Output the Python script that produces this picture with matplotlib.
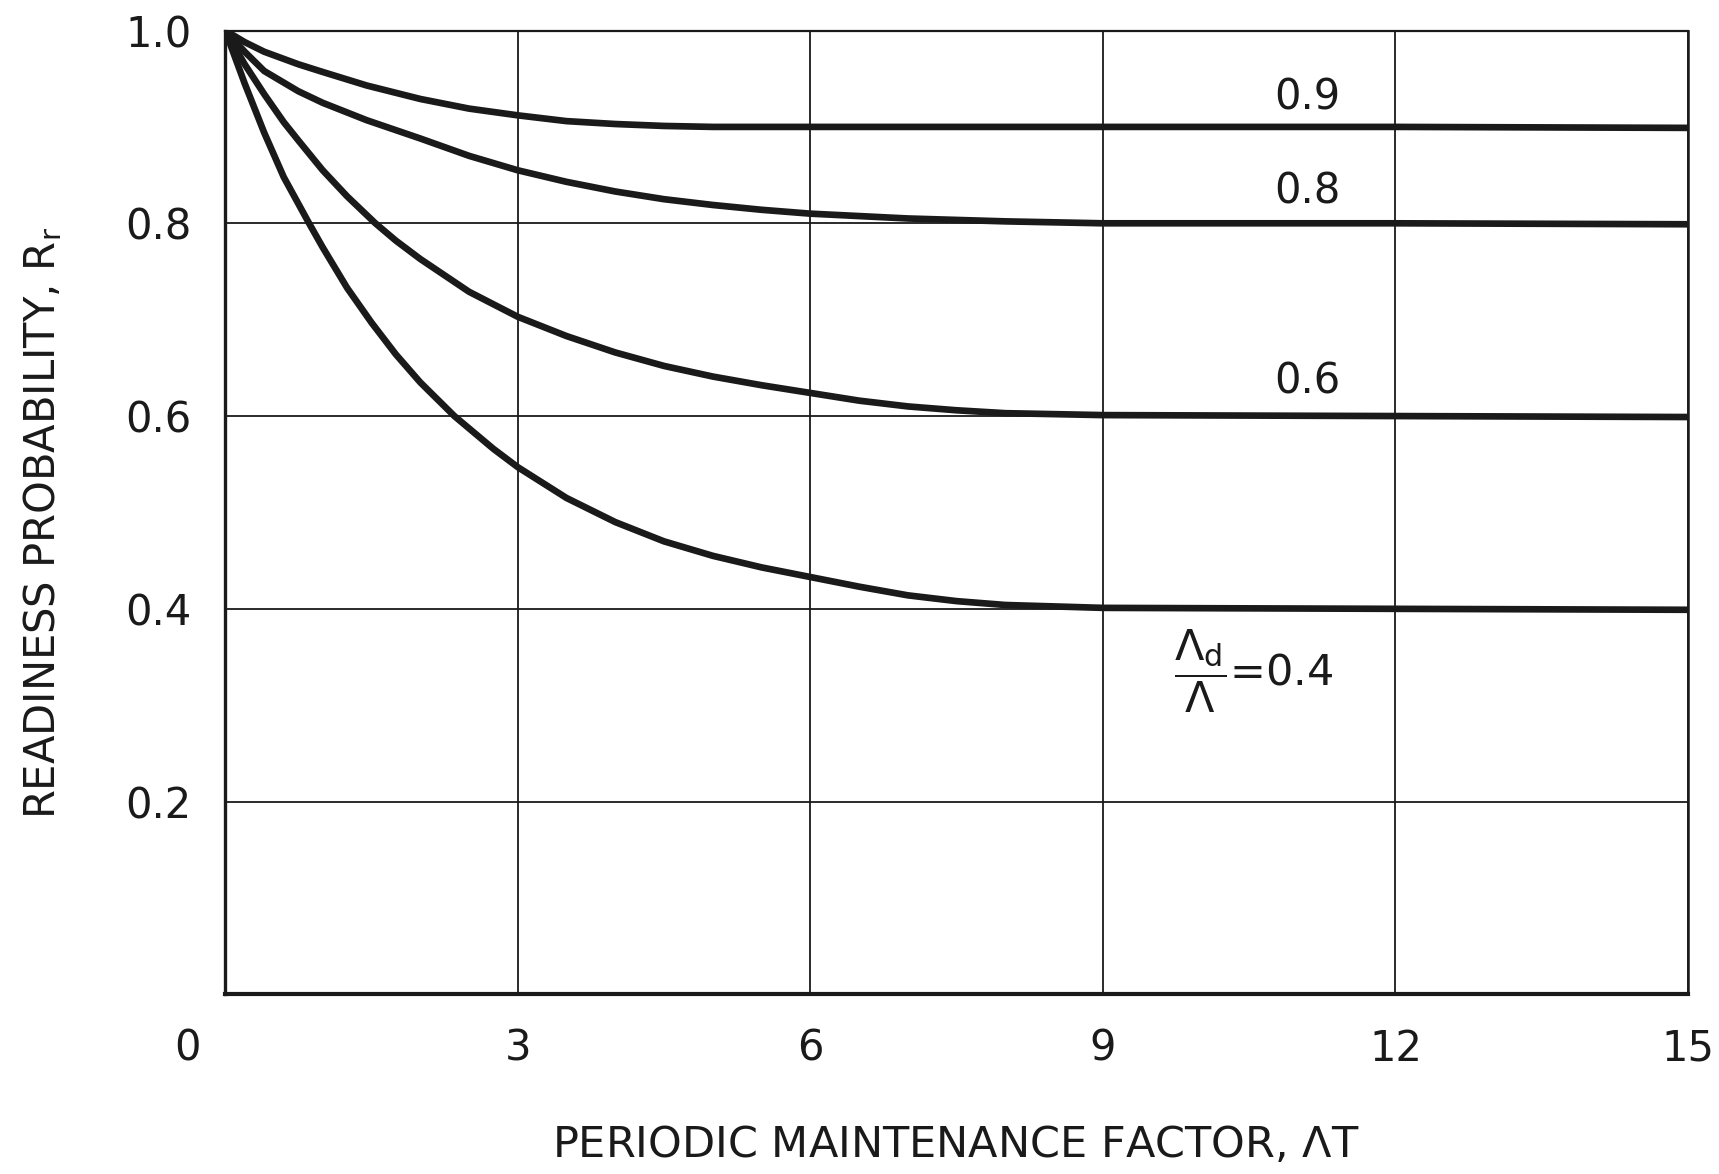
import matplotlib
matplotlib.use("Agg")
import matplotlib.pyplot as plt
import matplotlib.transforms as mtransforms

# readiness curves, values (Lambda_d / Lambda = 0.9, 0.8, 0.6, 0.4)
x_09 = [0, 0.2, 0.4, 0.75, 1.0, 1.45, 2.0, 2.5, 3.0, 3.5, 4.0, 4.5, 5.0, 6.0, 9.0, 12, 15]
y_09 = [1.0, 0.988, 0.978, 0.965, 0.957, 0.943, 0.929, 0.919, 0.912, 0.906, 0.903, 0.901, 0.90, 0.90, 0.90, 0.90, 0.899]

x_08 = [0, 0.2, 0.4, 0.75, 1.0, 1.45, 2.0, 2.5, 3.0, 3.5, 4.0, 4.5, 5.0, 5.5, 6.0, 7.0, 8.0, 9.0, 12, 15]
y_08 = [1.0, 0.978, 0.958, 0.937, 0.925, 0.907, 0.888, 0.870, 0.855, 0.843, 0.833, 0.825, 0.819,
        0.814, 0.81, 0.805, 0.802, 0.80, 0.80, 0.799]

x_06 = [0, 0.2, 0.4, 0.6, 0.75, 1.0, 1.25, 1.54, 1.75, 2.0, 2.5, 3.0, 3.5, 4.0, 4.5, 5.0, 5.5,
        6.0, 6.5, 7.0, 7.5, 8.0, 9.0, 12, 15]
y_06 = [1.0, 0.965, 0.934, 0.905, 0.886, 0.855, 0.828, 0.80, 0.782, 0.763, 0.729, 0.703, 0.683,
        0.666, 0.652, 0.641, 0.632, 0.624, 0.616, 0.61, 0.606, 0.603, 0.601, 0.60, 0.599]

x_04 = [0, 0.2, 0.4, 0.6, 0.86, 1.0, 1.25, 1.5, 1.75, 2.0, 2.35, 2.75, 3.0, 3.5, 4.0, 4.5, 5.0,
        5.5, 6.0, 6.5, 7.0, 7.5, 8.0, 9.0, 12, 15]
y_04 = [1.0, 0.945, 0.894, 0.848, 0.80, 0.775, 0.733, 0.697, 0.664, 0.635, 0.60, 0.566, 0.547,
        0.515, 0.49, 0.47, 0.455, 0.443, 0.433, 0.423, 0.414, 0.408, 0.404, 0.401, 0.40, 0.399]

curves = [(x_09, y_09), (x_08, y_08), (x_06, y_06), (x_04, y_04)]

x_ticks = [0, 3, 6, 9, 12, 15]
y_ticks = [0.2, 0.4, 0.6, 0.8, 1.0]
y_tick_labels = ["0.2", "0.4", "0.6", "0.8", "1.0"]

# curve labels: (text, x, y)
curve_labels = [("0.9", 11.1, 0.93), ("0.8", 11.1, 0.833), ("0.6", 11.1, 0.636)]

plt.rcParams["font.family"] = "DejaVu Sans"
plt.rcParams["mathtext.fontset"] = "dejavusans"

fig = plt.figure(figsize=(17.19, 11.74), dpi=100)
ax = fig.add_axes([0.131, 0.153, 0.851, 0.821])

for xs, ys in curves:
    ax.plot(xs, ys, color="#1a1a1a", lw=4.8, solid_capstyle="round",
            solid_joinstyle="round", zorder=3)

ax.set_xlim(0, 15)
ax.set_ylim(0, 1.0)
ax.set_xticks(x_ticks)
ax.set_xticklabels([str(v) for v in x_ticks])
ax.set_yticks(y_ticks)
ax.set_yticklabels(y_tick_labels)
ax.tick_params(axis="both", length=0, labelsize=30, colors="#1a1a1a")
ax.tick_params(axis="x", pad=24)
ax.tick_params(axis="y", pad=24)

# the "0" sits left of the origin in the original
lbl0 = ax.get_xticklabels()[0]
lbl0.set_transform(lbl0.get_transform() +
                   mtransforms.ScaledTranslation(-0.38, 0, fig.dpi_scale_trans))

ax.grid(True, color="#1a1a1a", lw=1.3)
ax.set_axisbelow(True)
for side, w in [("left", 2.4), ("bottom", 3.0), ("top", 1.6), ("right", 1.8)]:
    ax.spines[side].set_linewidth(w)
    ax.spines[side].set_color("#1a1a1a")

for txt, tx, ty in curve_labels:
    ax.text(tx, ty, txt, fontsize=30, ha="center", va="center", color="#1a1a1a")

ax.text(10.55, 0.335, r"$\dfrac{\Lambda_\mathrm{d}}{\Lambda}$=0.4", fontsize=31,
        ha="center", va="center", color="#1a1a1a")

fig.text(0.025, 0.555, r"READINESS PROBABILITY, R$_\mathregular{r}$", rotation=90,
         fontsize=30, ha="center", va="center", color="#1a1a1a")
fig.text(0.556, 0.025, r"PERIODIC MAINTENANCE FACTOR, $\Lambda$T",
         fontsize=31, ha="center", va="center", color="#1a1a1a")

fig.savefig("out.png", dpi=100, facecolor="white")
